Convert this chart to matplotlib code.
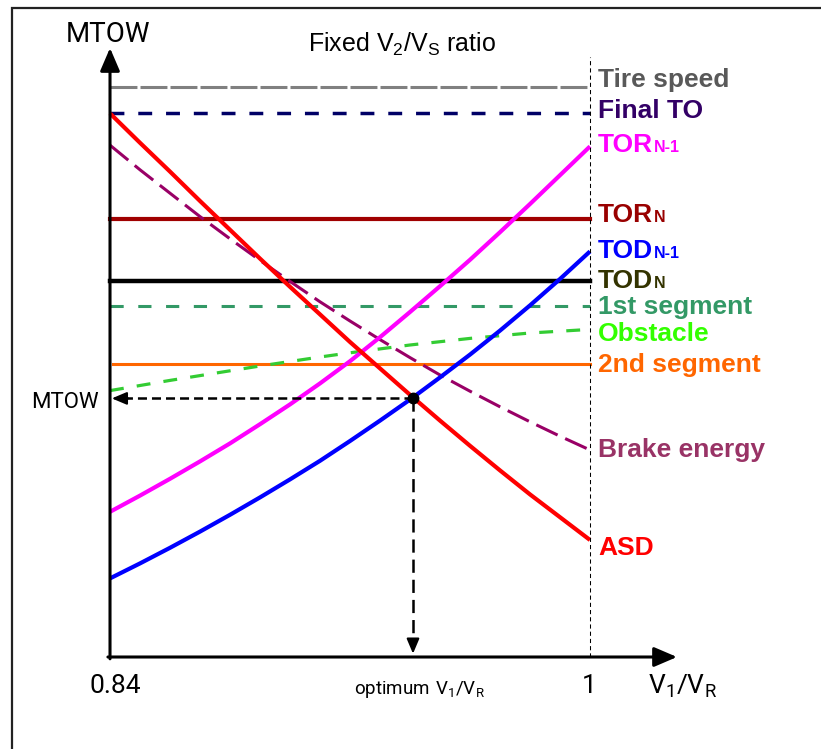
import matplotlib
matplotlib.use("Agg")
import matplotlib.pyplot as plt
from matplotlib.patches import Rectangle

plt.rcParams['lines.scale_dashes'] = False
plt.rcParams['mathtext.fontset'] = 'custom'

# V1/VR samples and MTOW limits (arbitrary units)
v_ratio = [0.84, 0.85, 0.86, 0.87, 0.88, 0.89, 0.90, 0.91, 0.92,
           0.93, 0.94, 0.95, 0.96, 0.97, 0.98, 0.99, 1.00]
asd = [90.6, 85.7, 80.9, 76.0, 71.2, 66.4, 61.7, 57.1, 52.5,
       48.1, 43.7, 39.4, 35.2, 31.1, 27.1, 23.3, 19.5]
brake_energy = [85.3, 81.2, 77.3, 73.4, 69.7, 66.1, 62.6, 59.2, 56.0,
                52.9, 49.9, 47.0, 44.3, 41.7, 39.2, 36.8, 34.5]
tor_n1 = [24.2, 26.9, 29.7, 32.6, 35.6, 38.8, 42.1, 45.6, 49.3,
          53.3, 57.5, 61.8, 66.2, 70.8, 75.5, 80.3, 85.1]
tod_n1 = [13.1, 15.6, 18.2, 20.9, 23.7, 26.6, 29.6, 32.7, 36.0,
          39.4, 42.9, 46.6, 50.4, 54.4, 58.6, 63.0, 67.6]
obstacle = [44.4, 45.25, 46.1, 46.9, 47.7, 48.5, 49.25, 50.0, 50.7,
            51.35, 52.0, 52.55, 53.1, 53.55, 54.0, 54.3, 54.6]

tire_speed = 95.0
final_to = 90.7
tor_n = 73.0
tod_n = 62.7
first_segment = 58.5
second_segment = 48.9

v_min, v_max = 0.84, 1.00
optimum_v, optimum_mtow = 0.941, 43.1
y_top = 101.5

fig = plt.figure(figsize=(8.21, 7.49), dpi=100)
ax = fig.add_axes([0, 0, 1, 1])
ax.set_xlim(0.80333, 1.077)
ax.set_ylim(-15.333, 109.5)
ax.axis('off')

# frame (cropped on right and bottom)
fig.add_artist(Rectangle((11.5 / 821, -0.1), 1.2, 0.9889 + 0.1, transform=fig.transFigure,
                         fill=False, lw=1.6, ec='#222222'))

# horizontal limits
x0, x1 = v_min, v_max
ax.plot([x0, x1], [tire_speed] * 2, color='#808080', lw=2.2, dashes=(19.4, 2.2))
ax.plot([x0, x1], [final_to] * 2, color='#000066', lw=2.5, dashes=(10, 10))
ax.plot([x0, x1], [tor_n] * 2, color='#a00000', lw=3)
ax.plot([x0, x1], [tod_n] * 2, color='black', lw=3.2)
ax.plot([x0, x1], [first_segment] * 2, color='#339966', lw=2.2, dashes=(9.5, 10.5))
ax.plot([x0 + 0.001, x1], [second_segment] * 2, color='#ff6600', lw=2.2)

# curves
ax.plot(v_ratio, obstacle, color='#33cc33', lw=2.3, dashes=(10, 9.5))
ax.plot(v_ratio, brake_energy, color='#990066', lw=2.2, dashes=(17, 6))
ax.plot(v_ratio, tor_n1, color='#ff00ff', lw=3, solid_capstyle='butt', solid_joinstyle='round')
ax.plot(v_ratio, tod_n1, color='#0000ff', lw=3, solid_capstyle='butt', solid_joinstyle='round')
ax.plot(v_ratio, asd, color='#ff0000', lw=3, solid_capstyle='butt', solid_joinstyle='round')

# V1/VR = 1 marker line
ax.plot([v_max, v_max], [0, 100], color='black', lw=0.75, dashes=(3, 2.2))

# axes with arrows
arrow_kw = dict(arrowstyle='-|>,head_length=14,head_width=6', color='black', lw=2.2,
                mutation_scale=1, shrinkA=0, shrinkB=0)
ax.annotate('', xy=(v_min, y_top), xytext=(v_min, -0.3), arrowprops=arrow_kw)
ax.annotate('', xy=(1.029, 0), xytext=(v_min - 0.0007, 0), arrowprops=arrow_kw)

# optimum point and dashed projections
ax.plot([optimum_v, v_min + 0.004], [optimum_mtow] * 2, color='black', lw=1.8, dashes=(6.5, 3.6))
ax.plot([optimum_v, optimum_v], [optimum_mtow, 2.0], color='black', lw=1.8, dashes=(9.5, 5))
small_kw = dict(arrowstyle='-|>,head_length=9,head_width=3.8', color='black', lw=1.5,
                mutation_scale=1, shrinkA=0, shrinkB=0)
ax.annotate('', xy=(v_min + 0.0006, optimum_mtow), xytext=(v_min + 0.006, optimum_mtow),
            arrowprops=small_kw)
ax.annotate('', xy=(optimum_v, 0.55), xytext=(optimum_v, 3.0), arrowprops=small_kw)
ax.plot([optimum_v], [optimum_mtow], 'o', color='black', ms=7.5)

# axis texts
geo = ['Roboto', 'DejaVu Sans']
ax.text(v_min - 0.0008, 102.5, 'MTOW', family=geo, fontsize=20, ha='center', va='baseline')
ax.text(0.8363, optimum_mtow - 1.6, 'MTOW', family=geo, fontsize=16, ha='right', va='baseline')
ax.text(v_min + 0.0017, -6.0, '0.84', family=geo, fontsize=19, ha='center', va='baseline')
ax.text(v_max - 0.0003, -6.0, '1', family=geo, fontsize=19, ha='center', va='baseline')
ax.text(1.0193, -6.2, r'$\mathregular{V_1/V_R}$', family=geo, fontsize=19, ha='left', va='baseline')
ax.text(0.9432, -6.2, r'$\mathregular{optimum\ V_1/V_R}$', family=geo, fontsize=13.5,
        ha='center', va='baseline')
ax.text(0.9373, 100.8, r'Fixed $\mathregular{V_2/V_S}$ ratio', family='Liberation Sans',
        fontsize=18, ha='center', va='baseline')

# right-hand labels
lab_x = 1.0027
labels = [
    (94.95, 'Tire speed', '', '#595959'),
    (89.88, 'Final TO', '', '#330066'),
    (84.22, 'TOR', 'N-1', '#ff00ff'),
    (72.55, 'TOR', 'N', '#990000'),
    (66.45, 'TOD', 'N-1', '#0000ff'),
    (61.45, 'TOD', 'N', '#333300'),
    (57.17, '1st segment', '', '#339966'),
    (52.67, 'Obstacle', '', '#33ff00'),
    (47.55, '2nd segment', '', '#ff6600'),
    (33.38, 'Brake energy', '', '#993366'),
    (17.0, 'ASD', '', '#ff0000'),
]
for y, main, sub, col in labels:
    t = ax.text(lab_x, y, main, family='Liberation Sans', fontweight='bold', fontsize=19,
                color=col, ha='left', va='baseline')
    if sub:
        ax.annotate(sub, xy=(1, 0), xycoords=t, xytext=(0.5, 1.5), textcoords='offset points',
                    family='Liberation Sans', fontweight='bold', fontsize=11.5, color=col,
                    ha='left', va='bottom')

fig.savefig('out.png', dpi=100)
